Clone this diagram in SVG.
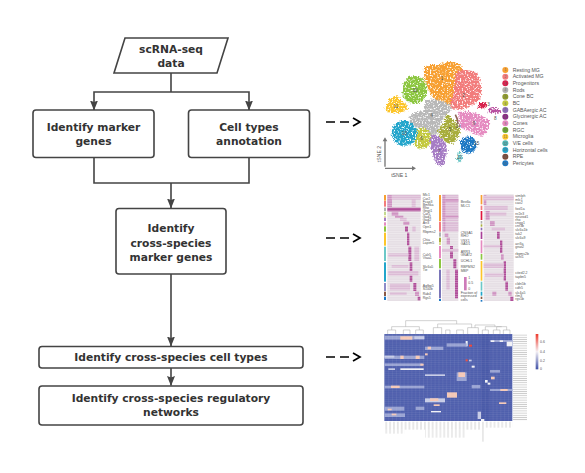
<svg xmlns="http://www.w3.org/2000/svg" width="585" height="473" viewBox="0 0 585 473">
<defs>
<style>
.box{fill:#fff;stroke:#444;stroke-width:1.6}
.t{font-family:"DejaVu Sans",sans-serif;font-weight:bold;font-size:10.7px;fill:#333;text-anchor:middle}
.conn{fill:none;stroke:#444;stroke-width:1.6}
.dash{fill:none;stroke:#000;stroke-width:1.7}
.leg{font-family:"Liberation Sans",sans-serif;font-size:15.5px;fill:#555}
.num{font-family:"Liberation Sans",sans-serif;font-size:14px;fill:#555;text-anchor:middle}
.lnum{font-family:"Liberation Sans",sans-serif;font-size:10px;fill:#666;text-anchor:middle}
.g{font-family:"Liberation Sans",sans-serif;font-size:10.5px;fill:#555}
.p{fill:#b0509a}
.m{fill:#cf94c2}
.s{fill:#dcbcd6}
.pale{fill:#98a2d2}
.lite{fill:#c6cbe6}
.pe{fill:#f5c8b6}
.wh{fill:#f2f2f6}
.red{fill:#ef4433}
</style>
<marker id="ah" viewBox="0 0 10 8" refX="9.500" refY="4" markerWidth="10" markerHeight="8" markerUnits="userSpaceOnUse" orient="auto"><path d="M0,0L10,4L0,8L1.500,4Z" fill="#444"/></marker>
<filter id="speck" x="-10%" y="-10%" width="120%" height="120%">
<feTurbulence type="fractalNoise" baseFrequency="0.2" numOctaves="2" seed="4" result="n"/>
<feDisplacementMap in="SourceGraphic" in2="n" scale="18" xChannelSelector="R" yChannelSelector="G" result="d"/>
<feColorMatrix in="n" type="matrix" values="0 0 0 0 0 0 0 0 0 0 0 0 0 0 0 0 5 0 0 -1.300" result="a"/>
<feComposite in="d" in2="a" operator="in" result="c"/>
<feGaussianBlur in="c" stdDeviation="1.800"/>
</filter>
<filter id="soft" x="-5%" y="-5%" width="110%" height="110%"><feGaussianBlur stdDeviation="1.500"/></filter>
<pattern id="stripe" width="10" height="7" patternUnits="userSpaceOnUse"><rect y="5" width="10" height="1.600" fill="#fff" opacity=".45"/></pattern>
<pattern id="grid" width="11.600" height="6.500" patternUnits="userSpaceOnUse" x="28" y="57"><path d="M0,0H11.600M0,0V6.500" fill="none" stroke="#fff" stroke-width=".9" opacity=".3"/></pattern>
<pattern id="rl" width="50" height="6.500" patternUnits="userSpaceOnUse" x="414" y="57"><rect y="2" width="50" height="2.500" fill="#999"/></pattern>
<pattern id="cl" width="11.600" height="60" patternUnits="userSpaceOnUse" x="28" y="320"><rect x="4.500" width="2.500" height="60" fill="#999"/></pattern>
<linearGradient id="cb" x1="0" y1="0" x2="0" y2="1"><stop offset="0" stop-color="#ee3a2c"/><stop offset=".5" stop-color="#f4f0f4"/><stop offset="1" stop-color="#3f50a6"/></linearGradient>
</defs>
<rect width="585" height="473" fill="#fff"/>

<g id="connectors">
<path class="conn" d="M171,73V92M171,92H94V110" marker-end="url(#ah)"/>
<path class="conn" d="M171,92H249V110" marker-end="url(#ah)"/>
<path class="conn" d="M94,158V183H249V158M171,183V208" marker-end="url(#ah)"/>
<path class="conn" d="M171,274V346" marker-end="url(#ah)"/>
<path class="conn" d="M171,368V385.500" marker-end="url(#ah)"/>
<g id="dashed">
<path class="dash" d="M326,122h9M340,122h9"/><path class="dash" d="M353,118l7,4l-7,4"/>
<path class="dash" d="M326,238h9M340,238h9"/><path class="dash" d="M353,234l7,4l-7,4"/>
<path class="dash" d="M326,357h9M340,357h9"/><path class="dash" d="M353,353l7,4l-7,4"/>
</g>
</g>

<g id="n-data"><path class="box" d="M125,38H228L217,73H114Z"/><text class="t" x="171" y="53">scRNA-seq</text><text class="t" x="171" y="67">data</text></g>
<g id="n-marker"><rect class="box" x="33" y="110" width="121" height="47.500" rx="3"/><text class="t" x="93.500" y="131">Identify marker</text><text class="t" x="93.500" y="145">genes</text></g>
<g id="n-annot"><rect class="box" x="188.500" y="110" width="121" height="47.500" rx="3"/><text class="t" x="249" y="131">Cell types</text><text class="t" x="249" y="145">annotation</text></g>
<g id="n-cross"><rect class="box" x="116" y="208.500" width="110" height="65.500" rx="3"/><text class="t" x="171" y="232">Identify</text><text class="t" x="171" y="247">cross-species</text><text class="t" x="171" y="261">marker genes</text></g>
<g id="n-types"><rect class="box" x="39" y="346.500" width="264" height="21.500" rx="3"/><text class="t" x="171" y="361">Identify cross-species cell types</text></g>
<g id="n-reg"><rect class="box" x="39" y="386" width="264" height="39" rx="3"/><text class="t" x="171" y="402">Identify cross-species regulatory</text><text class="t" x="171" y="416">networks</text></g>

<g id="tsne" transform="translate(370,30) scale(.33333)">
<g filter="url(#speck)">
<path fill="#f7a030" d="M162,112Q180,100 205,106Q225,90 265,100Q285,115 278,135Q265,175 258,228Q235,238 218,225Q183,207 176,177Q158,150 162,112Z"/>
<path fill="#f27c7c" d="M258,126Q290,113 320,128Q340,165 332,205Q305,237 262,242Q238,240 240,222Q256,170 258,126Z"/>
<ellipse fill="#d8234e" cx="337" cy="226" rx="15" ry="9"/>
<path fill="#b8b8b8" d="M170,210Q215,203 247,232Q227,255 210,285Q207,317 185,320Q168,297 150,297Q118,287 118,262Q133,243 163,243Q158,225 170,210Z"/>
<path fill="#a8ad3e" d="M230,253Q252,260 270,300Q272,327 245,342Q213,337 203,305Q220,285 230,253Z"/>
<ellipse fill="#c3c93f" cx="155" cy="325" rx="29" ry="32"/>
<path fill="#a67cc4" d="M186,314Q217,316 230,350Q234,387 215,410Q193,407 188,370Q173,340 186,314Z"/>
<ellipse fill="#b84f9f" cx="373" cy="243" rx="20" ry="9"/>
<path fill="#e58ac0" d="M263,246Q310,238 357,270Q362,302 335,320Q300,307 270,292Z"/>
<ellipse fill="#8cc640" cx="134" cy="180" rx="38" ry="42"/>
<path fill="#fcc52a" d="M46,240Q53,203 78,198Q90,203 94,213Q112,218 114,240Q90,254 78,247Q65,257 46,240Z"/>
<ellipse fill="#6cc8c8" cx="268" cy="382" rx="7" ry="20"/>
<ellipse fill="#22a5cb" cx="103" cy="310" rx="38" ry="38"/>
<ellipse fill="#1f78c4" cx="295" cy="345" rx="25" ry="26"/>
</g>
<path d="M256,254Q264,268 264,282" fill="none" stroke="#7b4a3a" stroke-width="5" opacity=".85"/>
<g class="num">
<text x="216" y="150">1</text><text x="281" y="200">2</text><text x="356" y="229">3</text><text x="185" y="260">4</text><text x="240" y="303">5</text><text x="155" y="330">6</text><text x="208" y="370">7</text><text x="376" y="270">8</text><text x="312" y="286">9</text><text x="135" y="185">10</text><text x="78" y="233">11</text><text x="268" y="387">12</text><text x="103" y="316">13</text><text x="264" y="293">14</text><text x="320" y="345">15</text>
</g>
<path d="M45,410V330M45,415H130" fill="none" stroke="#777" stroke-width="4"/>
<path d="M38,334L45,322L52,334ZM126,408L138,415L126,422Z" fill="#777"/>
<text class="leg" x="88" y="440" text-anchor="middle">tSNE 1</text>
<text class="leg" transform="translate(33,372) rotate(-90)" text-anchor="middle">tSNE 2</text>
<g>
<circle cx="406" cy="120" r="9" fill="#f7a030"/><circle cx="406" cy="140" r="9" fill="#f27c7c"/><circle cx="406" cy="160" r="9" fill="#d8234e"/><circle cx="406" cy="180" r="9" fill="#b0b0b0"/><circle cx="406" cy="200" r="9" fill="#8f9a2e"/><circle cx="406" cy="220" r="9" fill="#c3c93f"/><circle cx="406" cy="240" r="9" fill="#8d6cb5"/><circle cx="406" cy="260" r="9" fill="#8a2d85"/><circle cx="406" cy="280" r="9" fill="#e58ac0"/><circle cx="406" cy="300" r="9" fill="#6aa82f"/><circle cx="406" cy="320" r="9" fill="#fcc52a"/><circle cx="406" cy="340" r="9" fill="#4fb3b3"/><circle cx="406" cy="360" r="9" fill="#22a5cb"/><circle cx="406" cy="380" r="9" fill="#7b4a3a"/><circle cx="406" cy="400" r="9" fill="#1f78c4"/>
</g>
<g class="lnum"><text x="406" y="124">1</text><text x="406" y="144">2</text><text x="406" y="164">3</text><text x="406" y="184">4</text><text x="406" y="204">5</text><text x="406" y="224">6</text><text x="406" y="244">7</text><text x="406" y="264">8</text><text x="406" y="284">9</text><text x="406" y="304">10</text><text x="406" y="324">11</text><text x="406" y="344">12</text><text x="406" y="364">13</text><text x="406" y="384">14</text><text x="406" y="404">15</text></g>
<g class="leg">
<text x="428" y="125">Resting MG</text><text x="428" y="145">Activated MG</text><text x="428" y="165">Progenitors</text><text x="428" y="185">Rods</text><text x="428" y="205">Cone BC</text><text x="428" y="225">BC</text><text x="428" y="245">GABAergic AC</text><text x="428" y="265">Glycinergic AC</text><text x="428" y="285">Cones</text><text x="428" y="305">RGC</text><text x="428" y="325">Microglia</text><text x="428" y="345">V/E cells</text><text x="428" y="365">Horizontal cells</text><text x="428" y="385">RPE</text><text x="428" y="405">Pericytes</text>
</g>
</g>

<g id="markers" transform="translate(375,185) scale(.33333)">
<g filter="url(#soft)">
<rect x="37" y="28" width="100" height="320" fill="#e6dfe5"/>
<rect x="201" y="28" width="49" height="320" fill="#e6dfe5"/>
<rect x="326" y="28" width="90" height="320" fill="#e6dfe5"/>
<!-- col1 -->
<rect class="m" x="37" y="30" width="14" height="36"/><rect class="s" x="50" y="30" width="87" height="14"/><rect class="s" x="110" y="30" width="12" height="36"/>
<rect class="p" x="37" y="68" width="100" height="11"/><rect class="m" x="50" y="80" width="20" height="12"/><rect class="m" x="60" y="92" width="25" height="7"/><rect class="s" x="75" y="98" width="20" height="10"/>
<rect class="m" x="85" y="110" width="18" height="10"/><rect class="p" x="90" y="124" width="9" height="16"/><rect class="s" x="112" y="124" width="10" height="16"/><rect class="p" x="96" y="143" width="7" height="38"/><rect class="p" x="100" y="185" width="9" height="43"/><rect class="s" x="118" y="185" width="14" height="43"/><rect class="s" x="40" y="205" width="60" height="10"/><rect class="p" x="104" y="232" width="8" height="58"/><rect class="s" x="40" y="258" width="90" height="14"/><rect class="s" x="50" y="240" width="50" height="8"/><rect class="p" x="115" y="294" width="9" height="24"/><rect class="s" x="45" y="296" width="60" height="20"/><rect class="m" x="120" y="320" width="12" height="13"/><rect class="s" x="45" y="322" width="50" height="8"/><rect class="p" x="128" y="335" width="8" height="11"/>
<!-- col2 -->
<rect class="s" x="201" y="30" width="49" height="78"/><rect class="m" x="203" y="30" width="8" height="78"/><rect class="m" x="211" y="42" width="39" height="8"/><rect class="m" x="211" y="92" width="39" height="6"/>
<rect class="s" x="201" y="110" width="49" height="30"/><rect class="m" x="205" y="110" width="6" height="30"/>
<rect class="m" x="209" y="145" width="11" height="11"/><rect class="m" x="215" y="158" width="10" height="20"/><rect class="p" x="225" y="183" width="9" height="37"/><rect class="s" x="201" y="192" width="49" height="8"/><rect class="p" x="235" y="222" width="9" height="28"/><rect class="p" x="240" y="254" width="9" height="86"/><rect class="s" x="214" y="254" width="10" height="60"/>
<!-- col3 -->
<rect class="m" x="326" y="30" width="8" height="30"/><rect class="s" x="326" y="32" width="90" height="14"/><rect class="s" x="328" y="62" width="70" height="13"/><rect class="m" x="332" y="78" width="12" height="27"/><rect class="s" x="344" y="82" width="50" height="10"/>
<rect class="m" x="345" y="108" width="14" height="15"/><rect class="s" x="350" y="128" width="40" height="8"/><rect class="p" x="366" y="140" width="8" height="22"/><rect class="p" x="375" y="166" width="7" height="38"/><rect class="s" x="326" y="180" width="50" height="8"/><rect class="m" x="378" y="207" width="8" height="18"/><rect class="p" x="386" y="228" width="7" height="59"/><rect class="s" x="326" y="235" width="60" height="14"/><rect class="s" x="330" y="265" width="56" height="10"/><rect class="p" x="391" y="290" width="8" height="27"/><rect class="m" x="352" y="320" width="12" height="12"/><rect class="m" x="400" y="320" width="10" height="12"/><rect class="p" x="406" y="335" width="9" height="13"/>
<rect x="37" y="28" width="100" height="320" fill="url(#stripe)"/><rect x="201" y="28" width="49" height="320" fill="url(#stripe)"/><rect x="326" y="28" width="90" height="320" fill="url(#stripe)"/>
<!-- bars -->
<rect x="27" y="30" width="6" height="17" fill="#f7a030"/><rect x="27" y="48" width="6" height="17" fill="#f27c7c"/><rect x="27" y="68" width="6" height="10" fill="#b0b0b0"/><rect x="27" y="80" width="6" height="10" fill="#c3d98f"/><rect x="27" y="92" width="6" height="6" fill="#e8e59a"/><rect x="27" y="98" width="6" height="10" fill="#a67cc4"/><rect x="27" y="112" width="6" height="10" fill="#e58ac0"/><rect x="27" y="124" width="6" height="16" fill="#8cc640"/><rect x="27" y="143" width="6" height="39" fill="#fcc52a"/><rect x="27" y="185" width="6" height="43" fill="#6cc8c8"/><rect x="27" y="232" width="6" height="58" fill="#22a5cb"/><rect x="27" y="294" width="6" height="24" fill="#8d8cc8"/><rect x="27" y="320" width="6" height="13" fill="#8b5a44"/><rect x="27" y="335" width="6" height="10" fill="#1f78c4"/>
<rect x="192" y="30" width="6" height="78" fill="#f7a030"/><rect x="192" y="110" width="6" height="30" fill="#f27c7c"/><rect x="192" y="142" width="6" height="13" fill="#b0b0b0"/><rect x="192" y="158" width="6" height="14" fill="#a8ad3e"/><rect x="192" y="172" width="6" height="8" fill="#dcdc8c"/><rect x="192" y="183" width="6" height="37" fill="#e58ac0"/><rect x="192" y="222" width="6" height="28" fill="#8cc640"/><rect x="192" y="254" width="6" height="86" fill="#7a74b8"/><rect x="192" y="342" width="6" height="6" fill="#1f78c4"/>
<rect x="317" y="30" width="5" height="28" fill="#f7a030"/><rect x="317" y="62" width="5" height="13" fill="#f27c7c"/><rect x="317" y="78" width="5" height="27" fill="#e0193f"/><rect x="317" y="108" width="5" height="8" fill="#b0b0b0"/><rect x="317" y="118" width="5" height="7" fill="#a8ad3e"/><rect x="317" y="128" width="5" height="8" fill="#8d6cb5"/><rect x="317" y="140" width="5" height="22" fill="#a83f98"/><rect x="317" y="166" width="5" height="39" fill="#e58ac0"/><rect x="317" y="207" width="5" height="17" fill="#8cc640"/><rect x="317" y="228" width="5" height="59" fill="#fcc52a"/><rect x="317" y="290" width="5" height="27" fill="#6cc8c8"/><rect x="317" y="320" width="5" height="12" fill="#22a5cb"/><rect x="317" y="335" width="5" height="7" fill="#8b5a44"/><rect x="317" y="345" width="5" height="5" fill="#1f78c4"/>
</g>
<rect x="267" y="276" width="8" height="40" fill="#c25aa8" opacity=".8"/>
<g class="g">
<text x="143" y="34">Mlc1</text><text x="143" y="45">Car2</text><text x="143" y="54">Fcap3</text><text x="143" y="63">Bmhka</text><text x="143" y="72">Rho</text><text x="143" y="81">Gngt1</text><text x="143" y="90">Car5</text><text x="143" y="99">Gad1</text><text x="143" y="108">Gad2</text><text x="143" y="118">Arr3</text><text x="143" y="129">Opn1</text><text x="143" y="143">Rbpms2</text><text x="143" y="169">Chia</text><text x="143" y="178">Lapim5</text><text x="143" y="214">Calr5</text><text x="143" y="223">Vtaa1</text><text x="143" y="248">Slc6a5</text><text x="143" y="258">Tie</text><text x="143" y="307">Aqfbp5</text><text x="143" y="316">S100b</text><text x="143" y="330">Rab4</text><text x="143" y="341">Rgs5</text>
<text x="257" y="54">Bex6a</text><text x="257" y="65">MLC1</text><text x="257" y="147">CNGA1</text><text x="257" y="157">RHO</text><text x="257" y="170">VSX1</text><text x="257" y="180">GAD1</text><text x="257" y="203">ARR3</text><text x="257" y="214">GNAT2</text><text x="257" y="231">UCHL1</text><text x="257" y="250">RBPMS2</text><text x="257" y="260">MBP</text>
<text x="280" y="282">1</text><text x="280" y="298">0.5</text><text x="280" y="314">0</text><text x="257" y="326">Fraction of</text><text x="257" y="336">expressed</text><text x="257" y="348">cells</text>
<text x="421" y="37">vimlph</text><text x="421" y="47">mlc1</text><text x="421" y="57">cav2</text><text x="421" y="74">foxl1a</text><text x="421" y="91">nr2e3</text><text x="421" y="100">neurod1</text><text x="421" y="109">rho</text><text x="421" y="118">cngg1</text><text x="421" y="127">cnr3b</text><text x="421" y="137">slc6a1b</text><text x="421" y="149">tak2</text><text x="421" y="163">slc6a9</text><text x="421" y="179">arr3a</text><text x="421" y="189">gnat2</text><text x="421" y="209">rbpms2b</text><text x="421" y="220">uchl1</text><text x="421" y="266">cited2.2</text><text x="421" y="279">tapbn5</text><text x="421" y="301">cldn5b</text><text x="421" y="312">cdh5</text><text x="421" y="326">slc4a5</text><text x="421" y="336">rlm3</text><text x="421" y="346">rgs5b</text>
</g>
</g>

<g id="heatmap" transform="translate(375,315) scale(.33333)">
<g filter="url(#soft)">
<rect x="28" y="57" width="384" height="261" fill="#5060ad"/>
<rect x="318" y="57" width="27" height="261" fill="#4a5aa8"/>
<rect class="pale" x="28" y="62" width="120" height="12"/><rect class="pe" x="76" y="64" width="36" height="10"/>
<rect class="lite" x="118" y="64" width="30" height="8"/>
<rect class="pale" x="28" y="122" width="120" height="10"/><rect class="pe" x="76" y="122" width="10" height="10"/><rect class="pe" x="122" y="122" width="12" height="10"/><rect class="lite" x="28" y="122" width="30" height="6"/>
<rect class="pale" x="28" y="145" width="115" height="8"/><rect class="wh" x="76" y="160" width="70" height="5"/><rect class="lite" x="40" y="160" width="20" height="5"/><rect class="pe" x="136" y="146" width="10" height="6"/>
<rect class="pale" x="150" y="95" width="55" height="10"/><rect class="pe" x="158" y="95" width="10" height="8"/><rect class="pe" x="150" y="115" width="8" height="6"/><rect class="red" x="272" y="133" width="6" height="6"/><rect class="red" x="282" y="89" width="9" height="6"/><rect class="wh" x="272" y="78" width="6" height="16"/><rect class="lite" x="282" y="134" width="8" height="5"/>
<rect class="pale" x="215" y="85" width="60" height="10"/>
<rect class="pale" x="245" y="172" width="30" height="26"/><rect class="pe" x="250" y="172" width="20" height="14"/><rect class="lite" x="150" y="178" width="60" height="5"/>
<rect class="pe" x="216" y="232" width="30" height="16"/><rect class="lite" x="150" y="250" width="60" height="12"/><rect class="pe" x="165" y="250" width="25" height="8"/><rect class="pe" x="176" y="268" width="18" height="5"/><rect class="wh" x="168" y="288" width="30" height="4"/>
<rect class="pale" x="28" y="212" width="120" height="8"/><rect class="pe" x="48" y="212" width="26" height="7"/>
<rect class="pale" x="28" y="275" width="60" height="12"/><rect class="pe" x="38" y="281" width="12" height="5"/><rect class="pale" x="122" y="275" width="26" height="10"/><rect class="pale" x="28" y="295" width="62" height="11"/><rect class="pe" x="50" y="296" width="14" height="5"/>
<rect class="pale" x="345" y="75" width="67" height="6"/><rect class="wh" x="395" y="80" width="16" height="14"/><rect class="wh" x="348" y="76" width="10" height="5"/><rect class="wh" x="374" y="76" width="10" height="5"/>
<rect class="pale" x="345" y="165" width="30" height="8"/><rect class="pe" x="348" y="185" width="11" height="8"/><rect class="pale" x="345" y="222" width="67" height="6"/><rect class="pe" x="376" y="222" width="22" height="6"/><rect class="pe" x="372" y="262" width="22" height="5"/>
<rect class="wh" x="330" y="195" width="8" height="8"/><rect class="wh" x="338" y="203" width="8" height="6"/><rect class="wh" x="290" y="152" width="9" height="6"/><rect class="pale" x="290" y="210" width="26" height="10"/><rect class="wh" x="318" y="312" width="10" height="6"/><rect class="lite" x="308" y="290" width="10" height="22"/>
<rect x="28" y="57" width="384" height="261" fill="url(#grid)"/>
<rect x="414" y="57" width="42" height="261" fill="url(#rl)" opacity=".55"/>
<rect x="28" y="320" width="300" height="24" fill="url(#cl)" opacity=".55"/><rect x="28" y="344" width="60" height="12" fill="url(#cl)" opacity=".45"/><rect x="150" y="344" width="120" height="24" fill="url(#cl)" opacity=".45"/><rect x="318" y="344" width="12" height="36" fill="url(#cl)" opacity=".5"/>
<rect x="330" y="320" width="82" height="18" fill="url(#cl)" opacity=".5"/>
</g>
<path d="M38,57V45H62V57M85,57V45H105V57M122,57V45H145V57M50,45V35H133V45M92,35V17H245V27M175,57V38H200V57M212,57V45H225V57M245,57V45H265V57M188,38V27H290V38M278,57V38H310V57M322,57V45H340V57M355,57V45H375V57M385,57V45H405V57M365,45V35H395V45M331,45V35H380M300,38V30H360V35" fill="none" stroke="#aaa" stroke-width="1.600"/>
<rect x="482" y="57" width="8" height="106" fill="url(#cb)"/>
<g class="g" font-size="8"><text x="495" y="84">0.6</text><text x="495" y="113">0.4</text><text x="495" y="140">0.2</text><text x="495" y="166">0</text></g>
</g>
</svg>
